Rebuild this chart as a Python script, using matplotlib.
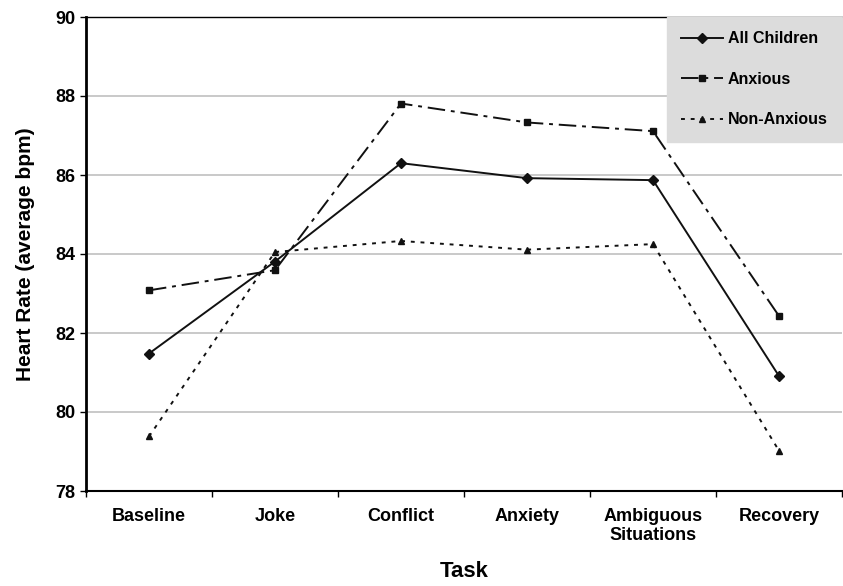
import matplotlib.pyplot as plt

# Data
tasks = ['Baseline', 'Joke', 'Conflict', 'Anxiety', 'Ambiguous\nSituations', 'Recovery']
all_children = [81.48, 83.81, 86.30, 85.92, 85.87, 80.91]
anxious = [83.08, 83.59, 87.81, 87.33, 87.11, 82.43]
non_anxious = [79.38, 84.05, 84.33, 84.11, 84.25, 79.02]

plt.rcParams['font.family'] = ['Liberation Sans', 'DejaVu Sans']
plt.rcParams['font.weight'] = 'bold'

fig = plt.figure(figsize=(8.43, 5.86), dpi=100)
ax = fig.add_axes([86 / 843, 1 - 491 / 586, 756 / 843, 474 / 586])

x = range(len(tasks))
ax.plot(x, all_children, color='#111111', lw=1.4, marker='D', ms=5, label='All Children')
ax.plot(x, anxious, color='#111111', lw=1.4, ls=(0, (9, 3, 2, 3)), marker='s', ms=4.5, label='Anxious')
ax.plot(x, non_anxious, color='#111111', lw=1.4, ls=(0, (2, 3)), marker='^', ms=5, label='Non-Anxious')

ax.set_xlim(-0.5, 5.5)
ax.set_ylim(78, 90)
ax.set_yticks(range(78, 91, 2))
ax.set_xticks(list(x))
ax.set_xticks([i + 0.5 for i in range(-1, len(tasks))], minor=True)
ax.set_xticklabels(tasks, fontsize=13, fontweight='bold')
ax.tick_params(axis='y', labelsize=13, length=4, width=1)
ax.tick_params(axis='x', which='major', length=0, pad=12)
ax.tick_params(axis='x', which='minor', length=4, width=1)
ax.yaxis.grid(True, color='#c0c0c0', lw=1.2)
ax.set_axisbelow(True)

ax.spines['right'].set_visible(False)
ax.spines['top'].set_linewidth(1)
ax.spines['left'].set_linewidth(2)
ax.spines['bottom'].set_linewidth(1.5)

ax.set_xlabel('Task', fontsize=16, fontweight='bold', labelpad=12)
ax.set_ylabel('Heart Rate (average bpm)', fontsize=15, fontweight='bold', labelpad=15)

leg = ax.legend(loc='upper right', frameon=True, fancybox=False, fontsize=11.5,
                handlelength=2.6, labelspacing=1.6, borderpad=0.9, borderaxespad=0,
                handletextpad=0.3)
leg.get_frame().set_facecolor('#dcdcdc')
leg.get_frame().set_edgecolor('#dcdcdc')
leg.get_frame().set_alpha(1)

plt.savefig('out.png', dpi=100)
